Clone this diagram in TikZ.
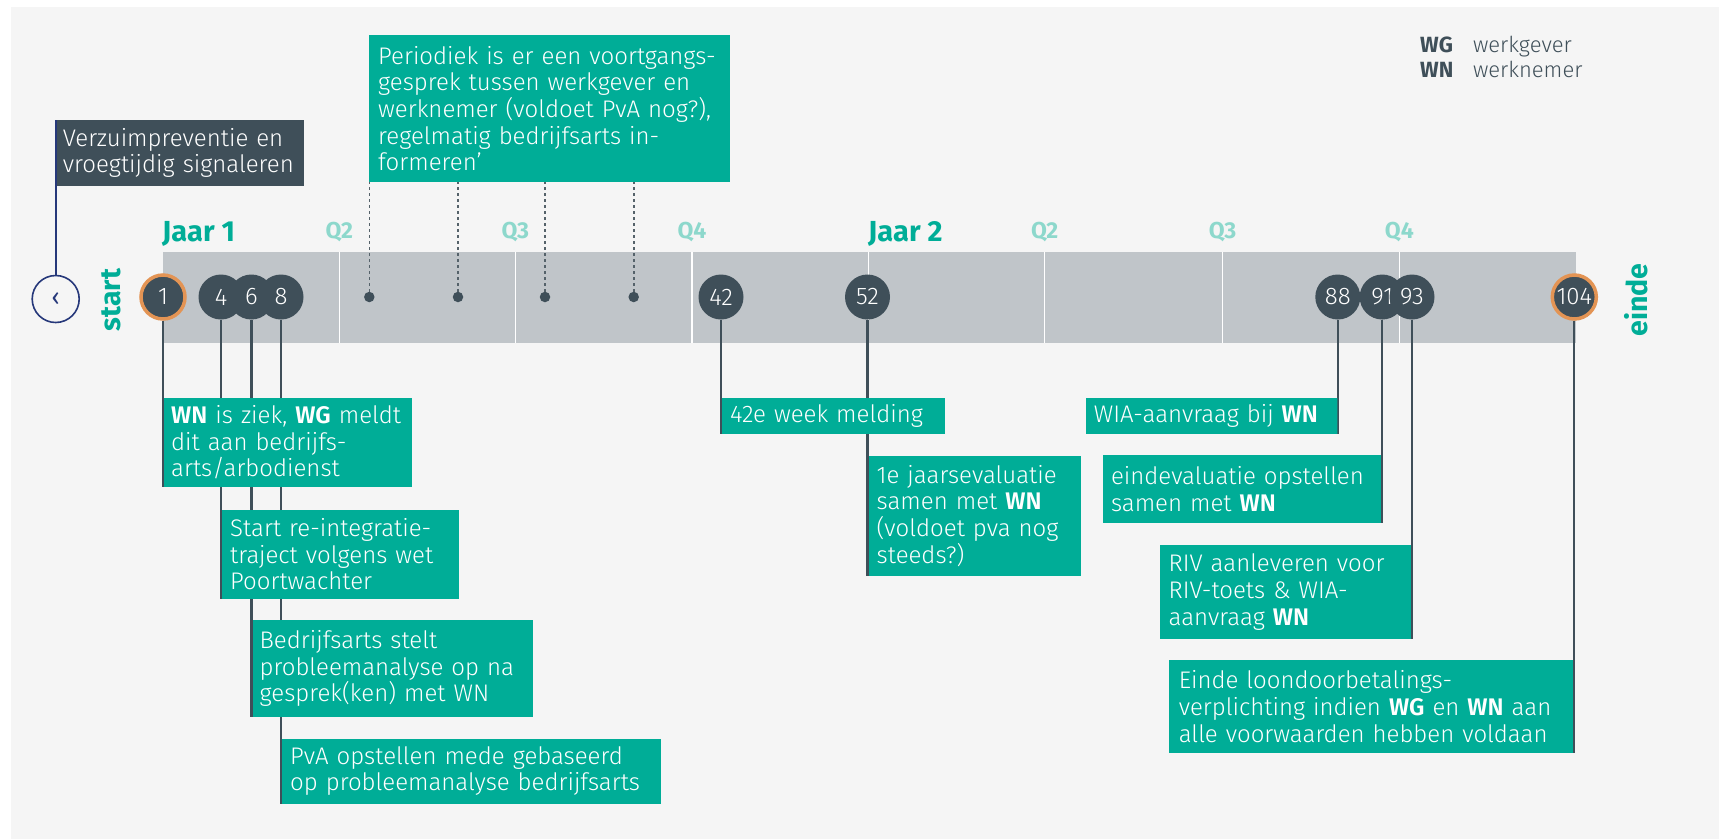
\documentclass[tikz,border=0pt]{standalone}
\usepackage{fontspec}
\IfFontExistsTF{Fira Sans Light}
  {\setmainfont{Fira Sans Light}[BoldFont={Fira Sans SemiBold}]}
  {\setmainfont{Fira Sans}}
\IfFontExistsTF{Fira Sans SemiBold}{}{\setmainfont{Fira Sans}}
\newfontfamily\heavyfont{Fira Sans}
\usetikzlibrary{backgrounds}
\definecolor{panel}{HTML}{F5F5F5}
\definecolor{band}{HTML}{C0C5C9}
\definecolor{slate}{HTML}{3F4F59}
\definecolor{tgreen}{HTML}{00AD97}
\definecolor{ringc}{HTML}{E39454}
\definecolor{qteal}{HTML}{8DD8CC}
\definecolor{navy}{HTML}{26387A}
\definecolor{dotc}{HTML}{55626A}
\newcommand\boxfont{\fontsize{24}{26.7}\selectfont}
\tikzset{
  circ/.style={circle, fill=slate, text=white, minimum size=45pt, inner sep=0pt, font=\fontsize{24}{24}\selectfont},
  ringcirc/.style={circ, draw=ringc, line width=3.5pt, minimum size=44pt},
  tbox/.style={fill=tgreen, text=white, inner xsep=10pt, inner ysep=0pt, align=left, font=\boxfont},
  lbox/.style={tbox, anchor=north west, path picture={\fill[slate] (path picture bounding box.north west) rectangle ([xshift=1.1pt]path picture bounding box.south west);}},
  rbox/.style={tbox, anchor=north east, path picture={\fill[slate] (path picture bounding box.north east) rectangle ([xshift=-1.1pt]path picture bounding box.south east);}},
  conn/.style={draw=slate, line width=2.2pt},
  dotline/.style={draw=dotc, line width=1.6pt, dash pattern=on 2.6pt off 3.4pt},
  dotnode/.style={circle, fill=slate, minimum size=10.5pt, inner sep=0pt},
  qlab/.style={text=qteal, font=\heavyfont\bfseries\fontsize{23}{24}\selectfont, anchor=base},
  jaar/.style={text=tgreen, font=\heavyfont\bfseries\fontsize{29}{32}\selectfont, anchor=base west, inner sep=0pt},
  side/.style={text=tgreen, font=\heavyfont\bfseries\fontsize{28.5}{30}\selectfont, rotate=90},
  leg/.style={text=slate, font=\fontsize{22}{24}\selectfont, anchor=base west, inner sep=0pt},
}
\begin{document}
\begin{tikzpicture}[x=1pt,y=-1pt]
\useasboundingbox (0,0) rectangle (1719,839);

% circles
\node[ringcirc] (c1) at (163,297) {1};
\node[circ] (c4) at (221,297) {4};
\node[circ] (c6) at (251.4,297) {6};
\node[circ] (c8) at (281,297) {8};
\node[circ] (c42) at (721,297) {42};
\node[circ] (c52) at (867.5,297) {52};
\node[circ] (c88) at (1337.8,297) {88};
\node[circ] (c91) at (1382.2,297) {91};
\node[circ] (c93) at (1412,297) {93};
\node[ringcirc] (c104) at (1574.3,297) {104};

% dots
\node[dotnode] (d1) at (369.3,297) {};
\node[dotnode] (d2) at (458,297) {};
\node[dotnode] (d3) at (545,297) {};
\node[dotnode] (d4) at (633.7,297) {};

% back circle
\node[circle, draw=navy, line width=1.6pt, minimum size=47pt, inner sep=0pt, text=navy, font=\heavyfont\fontsize{24}{26}\selectfont] (back) at (55.7,299) {‹};

% top boxes
\node[tbox, anchor=north west, text width=343pt, inner xsep=9pt, minimum height=146.7pt] (bK) at (369,35)
 {Periodiek is er een voortgangs-\\gesprek tussen werkgever en\\werknemer (voldoet PvA nog?),\\regelmatig bedrijfsarts in-\\formeren’};
\node[tbox, fill=slate, anchor=north west, text width=234.3pt, inner xsep=7pt, minimum height=65.7pt] (bL) at (55.7,120)
 {Verzuimpreventie en\\vroegtijdig signaleren};
\draw[navy, line width=2pt] (back.north) -- (bL.north west);

% lower left boxes
\node[lbox, text width=233pt, inner xsep=8pt, minimum height=89.4pt] (bA) at (163,397.3)
 {\textbf{WN} is ziek, \textbf{WG} meldt\\dit aan bedrijfs-\\arts/arbodienst};
\node[lbox, text width=219.6pt, inner xsep=9pt, minimum height=89.7pt] (bB) at (221,509.3)
 {Start re-integratie-\\traject volgens wet\\Poortwachter};
\node[lbox, text width=265.5pt, inner xsep=8pt, minimum height=96.7pt] (bC) at (251.4,620)
 {Bedrijfsarts stelt\\probleemanalyse op na\\gesprek(ken) met WN};
\node[lbox, text width=361.7pt, inner xsep=9pt, minimum height=65pt] (bD) at (281,738.3)
 {PvA opstellen mede gebaseerd\\op probleemanalyse bedrijfsarts};
\node[lbox, text width=205.3pt, inner xsep=9pt, minimum height=36pt] (bE) at (721,397.3)
 {42e week melding};
\node[lbox, text width=195.7pt, inner xsep=9pt, minimum height=120.4pt] (bF) at (867.5,455.3)
 {1e jaarsevaluatie\\samen met \textbf{WN}\\(voldoet pva nog\\steeds?)};

% lower right boxes
\node[rbox, text width=235.8pt, inner xsep=8pt, minimum height=36pt] (bG) at (1337.8,397.3)
 {WIA-aanvraag bij \textbf{WN}};
\node[rbox, text width=263pt, inner xsep=8pt, minimum height=67.7pt] (bH) at (1382.2,455)
 {eindevaluatie opstellen\\samen met \textbf{WN}};
\node[rbox, text width=234.2pt, inner xsep=9pt, minimum height=93.3pt] (bI) at (1412,545)
 {RIV aanleveren voor\\RIV-toets \& WIA-\\aanvraag \textbf{WN}};
\node[rbox, text width=385.3pt, minimum height=92.7pt] (bJ) at (1574.3,660)
 {Einde loondoorbetalings-\\verplichting indien \textbf{WG} en \textbf{WN} aan\\alle voorwaarden hebben voldaan};

% labels
\node[jaar] (j1) at (162,241) {Jaar 1};
\node[jaar] (j2) at (868,241) {Jaar 2};
\node[qlab] (q2a) at (339.3,238) {Q2};
\node[qlab] (q3a) at (515.3,238) {Q3};
\node[qlab] (q4a) at (692,238) {Q4};
\node[qlab] (q2b) at (1044.7,238) {Q2};
\node[qlab] (q3b) at (1222.5,238) {Q3};
\node[qlab] (q4b) at (1399.4,238) {Q4};
\node[side] (start) at (111,300) {start};
\node[side] (einde) at (1636,300) {einde};

% legend
\node[leg, font=\heavyfont\bfseries\fontsize{22}{24}\selectfont] (lwg) at (1420,52.3) {WG};
\node[leg] (lwgt) at (1472.8,52.3) {werkgever};
\node[leg, font=\heavyfont\bfseries\fontsize{22}{24}\selectfont] (lwn) at (1420,77.3) {WN};
\node[leg] (lwnt) at (1472.8,77.3) {werknemer};

\begin{pgfonlayer}{background}
  \fill[white] (0,0) rectangle (1719,839);
  \fill[panel] (11,7) rectangle (1719,839);
  \fill[band] (163,252) rectangle (1575.8,343.3);
  \foreach \x in {339.3,515.3,692,868.3,1044.7,1222.5,1399.4}
    \draw[white, line width=1.5pt] (\x,252) -- (\x,343.3);
  \draw[conn] (c1.south) -- (bA.south west);
  \draw[conn] (c4.south) -- (bB.south west);
  \draw[conn] (c6.south) -- (bC.south west);
  \draw[conn] (c8.south) -- (bD.south west);
  \draw[conn] (c42.south) -- (bE.south west);
  \draw[conn] (c52.south) -- (bF.south west);
  \draw[conn] (c88.south) -- (bG.south east);
  \draw[conn] (c91.south) -- (bH.south east);
  \draw[conn] (c93.south) -- (bI.south east);
  \draw[conn] (c104.south) -- (bJ.south east);
  \draw[dotline] (d1) -- (d1 |- bK.south);
  \draw[dotline] (d2) -- (d2 |- bK.south);
  \draw[dotline] (d3) -- (d3 |- bK.south);
  \draw[dotline] (d4) -- (d4 |- bK.south);
\end{pgfonlayer}
\end{tikzpicture}
\end{document}
